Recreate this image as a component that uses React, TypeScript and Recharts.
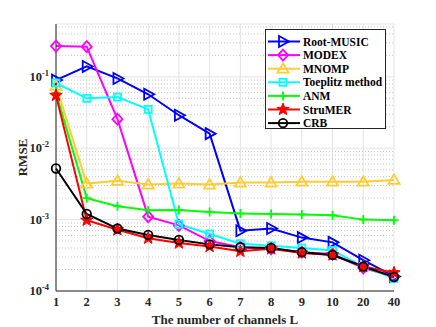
import React from 'react'
import {
  LineChart, Line, XAxis, YAxis, CartesianGrid, ReferenceLine, Legend,
} from 'recharts'

const channels = ['1', '2', '3', '4', '5', '6', '7', '8', '9', '10', '20', '40']
const rootMusic = [0.09, 0.14, 0.095, 0.057, 0.029, 0.016, 0.0007, 0.00075, 0.00056, 0.00048, 0.00027, 0.00016]
const modex = [0.27, 0.265, 0.0255, 0.0011, 0.00083, 0.0005, 0.00041, 0.00039, 0.00035, 0.00033, 0.00021, 0.00016]
const mnomp = [0.075, 0.0032, 0.0035, 0.0031, 0.0032, 0.0031, 0.0033, 0.0033, 0.0034, 0.0034, 0.0034, 0.0036]
const toeplitz = [0.082, 0.05, 0.052, 0.035, 0.00086, 0.00063, 0.00046, 0.00043, 0.0004, 0.00037, 0.00022, 0.00015]
const anm = [0.06, 0.002, 0.00154, 0.00135, 0.00136, 0.00128, 0.00122, 0.0012, 0.00118, 0.00115, 0.001, 0.00098]
const strumer = [0.055, 0.00098, 0.00072, 0.00055, 0.00047, 0.00042, 0.00036, 0.00039, 0.00034, 0.00032, 0.00022, 0.00018]
const crb = [0.0052, 0.0012, 0.00075, 0.00061, 0.00052, 0.00045, 0.00041, 0.0004, 0.00035, 0.00032, 0.00022, 0.000157]

const majorTicks = [1e-4, 1e-3, 1e-2, 1e-1]
const minorTicks: number[] = []
for (let e = -4; e <= -1; e++) {
  for (let m = 2; m <= 9; m++) {
    const v = m * Math.pow(10, e)
    if (v < 0.55) minorTicks.push(v)
  }
}

const FONT = '"Liberation Serif", "Times New Roman", serif'

const series = [
  { key: 'rootMusic', name: 'Root-MUSIC', color: '#0000ff', shape: 'triRight', values: rootMusic },
  { key: 'modex', name: 'MODEX', color: '#ff00ff', shape: 'diamond', values: modex },
  { key: 'mnomp', name: 'MNOMP', color: '#ffcc33', shape: 'triUp', values: mnomp },
  { key: 'toeplitz', name: 'Toeplitz method', color: '#00ffff', shape: 'square', values: toeplitz },
  { key: 'anm', name: 'ANM', color: '#00ff00', shape: 'plus', values: anm },
  { key: 'strumer', name: 'StruMER', color: '#ff0000', shape: 'star', values: strumer },
  { key: 'crb', name: 'CRB', color: '#000000', shape: 'circle', values: crb },
]

const data = channels.map((L, i) => {
  const row: any = { L }
  series.forEach(s => { row[s.key] = s.values[i] })
  return row
})

function Marker({ shape, cx, cy, color }: { shape: string; cx: number; cy: number; color: string }) {
  const sw = 1.8
  switch (shape) {
    case 'triRight':
      return <polygon points={`${cx - 4},${cy - 5.5} ${cx + 6},${cy} ${cx - 4},${cy + 5.5}`} fill="none" stroke={color} strokeWidth={sw} />
    case 'diamond':
      return <polygon points={`${cx},${cy - 5.5} ${cx + 5},${cy} ${cx},${cy + 5.5} ${cx - 5},${cy}`} fill="none" stroke={color} strokeWidth={sw} />
    case 'triUp':
      return <polygon points={`${cx},${cy - 5.5} ${cx + 5.5},${cy + 4} ${cx - 5.5},${cy + 4}`} fill="none" stroke={color} strokeWidth={sw} />
    case 'square':
      return <rect x={cx - 3.5} y={cy - 3.5} width={7} height={7} fill="none" stroke={color} strokeWidth={sw} />
    case 'plus':
      return (
        <g stroke={color} strokeWidth={sw}>
          <line x1={cx - 4.5} y1={cy} x2={cx + 4.5} y2={cy} />
          <line x1={cx} y1={cy - 4.5} x2={cx} y2={cy + 4.5} />
        </g>
      )
    case 'star': {
      const pts: string[] = []
      for (let k = 0; k < 10; k++) {
        const r = k % 2 === 0 ? 6.5 : 2.7
        const a = -Math.PI / 2 + (k * Math.PI) / 5
        pts.push(`${cx + r * Math.cos(a)},${cy + r * Math.sin(a)}`)
      }
      return <polygon points={pts.join(' ')} fill={color} stroke={color} strokeWidth={1} />
    }
    default:
      return <circle cx={cx} cy={cy} r={4.3} fill="none" stroke={color} strokeWidth={sw} />
  }
}

const LogTick = (props: any) => {
  const { x, y, payload } = props
  const exp = Math.round(Math.log10(payload.value))
  return (
    <text x={x + 1} y={y + 4} textAnchor="end" fontFamily={FONT} fontWeight="bold" fontSize={12.5} fill="#262626">
      10<tspan dy={-5} fontSize={8.5}>{exp}</tspan>
    </text>
  )
}

const renderLegend = () => (
  <svg width={121} height={100} style={{ display: 'block' }}>
    <rect x={0.5} y={0.5} width={120} height={99} fill="#fff" stroke="#262626" strokeWidth={1} />
    {series.map((s, i) => {
      const cy = 12.5 + i * 13.6
      return (
        <g key={s.key}>
          <line x1={3} y1={cy} x2={35} y2={cy} stroke={s.color} strokeWidth={2} />
          <Marker shape={s.shape} cx={18} cy={cy} color={s.color} />
          <text x={38} y={cy + 4} fontFamily={FONT} fontWeight="bold" fontSize={11.5} fill="#000">{s.name}</text>
        </g>
      )
    })}
  </svg>
)

export default function App() {
  return (
    <div style={{ position: 'absolute', left: 0, top: 0, background: '#fff' }}>
      <LineChart width={436} height={327} data={data} margin={{ top: 24, right: 42, left: 0, bottom: 0 }}>
        <CartesianGrid stroke="#e3e3e3" strokeWidth={1} />
        {minorTicks.map(v => (
          <ReferenceLine key={v} y={v} stroke="#c8c8c8" strokeDasharray="1 2" strokeWidth={1} ifOverflow="hidden" />
        ))}
        <XAxis
          dataKey="L"
          height={36}
          interval={0}
          axisLine={{ stroke: '#262626' }}
          tickLine={false}
          tickMargin={0}
          tick={{ fontFamily: FONT, fontWeight: 'bold', fontSize: 12.5, fill: '#262626' }}
          label={{ value: 'The number of channels L', position: 'insideBottom', offset: 3, fontFamily: FONT, fontWeight: 'bold', fontSize: 13, fill: '#262626' }}
        />
        <XAxis xAxisId="top" dataKey="L" orientation="top" height={0} tick={false} tickLine={false} axisLine={{ stroke: '#262626' }} />
        <YAxis
          scale="log"
          type="number"
          domain={[1e-4, 0.55]}
          allowDataOverflow
          ticks={majorTicks}
          width={56}
          axisLine={{ stroke: '#262626' }}
          tickLine={false}
          tick={<LogTick />}
          label={{ value: 'RMSE', angle: -90, position: 'center', dx: -6, fontFamily: FONT, fontWeight: 'bold', fontSize: 13, fill: '#262626' }}
        />
        <YAxis yAxisId="right" orientation="right" scale="log" type="number" domain={[1e-4, 0.55]} allowDataOverflow width={0} tick={false} tickLine={false} axisLine={{ stroke: '#262626' }} />
        <Legend
          layout="vertical"
          align="center"
          verticalAlign="middle"
          content={renderLegend}
          wrapperStyle={{ position: 'absolute', left: 265, top: 29, width: 121, height: 100 }}
        />
        {series.map(s => (
          <Line
            key={s.key}
            dataKey={s.key}
            name={s.name}
            stroke={s.color}
            strokeWidth={2}
            isAnimationActive={false}
            dot={(p: any) => <Marker key={`${s.key}-${p.index}`} shape={s.shape} cx={p.cx} cy={p.cy} color={s.color} />}
            activeDot={false}
          />
        ))}
      </LineChart>
    </div>
  )
}
